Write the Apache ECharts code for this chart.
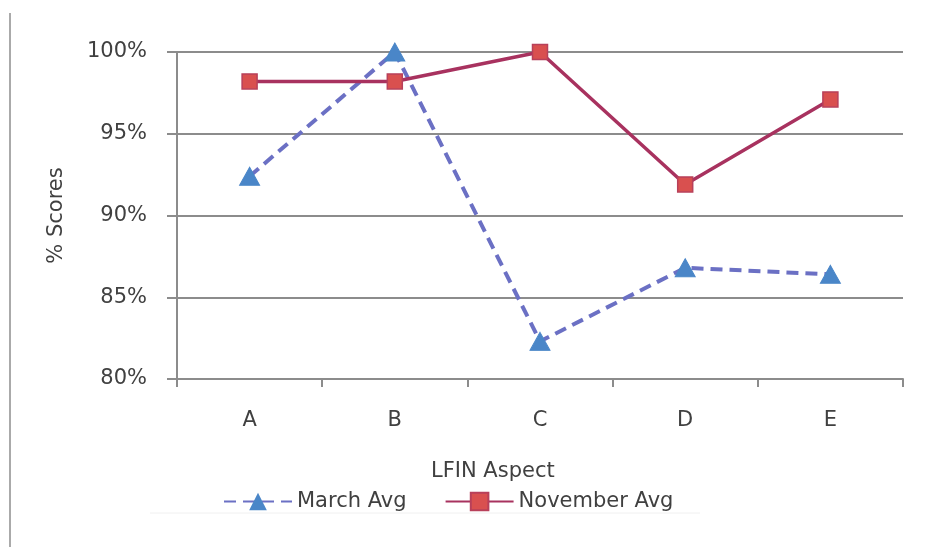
<!DOCTYPE html>
<html>
<head>
<meta charset="utf-8">
<script src="https://cdn.jsdelivr.net/npm/echarts@6/dist/echarts.min.js"></script>
<style>html,body{margin:0;padding:0;background:#fff}#c{width:946px;height:547px}</style>
</head>
<body>
<div id="c"></div>
<script>
var categories = ['A', 'B', 'C', 'D', 'E'];
var marchAvg = [92.4, 100, 82.3, 86.8, 86.4];
var novemberAvg = [98.2, 98.2, 100, 91.9, 97.1];
var yTicks = [80, 85, 90, 95, 100];

var FONT = 'DejaVu Sans';
var TXT = '#404040';
var chart = echarts.init(document.getElementById('c'));
chart.setOption({
  animation: false,
  backgroundColor: '#fff',
  textStyle: {fontFamily: FONT},
  grid: {left: 177, right: 43, top: 52, bottom: 168},
  title: {
    text: 'LFIN Aspect', left: 426, top: 456,
    textStyle: {fontFamily: FONT, fontSize: 21, fontWeight: 'normal', color: TXT}
  },
  legend: {
    left: 218, top: 486, itemWidth: 68, itemHeight: 22, itemGap: 38,
    textStyle: {fontFamily: FONT, fontSize: 21, color: TXT},
    data: ['March Avg', 'November Avg']
  },
  xAxis: {
    type: 'category', data: categories, boundaryGap: true,
    axisLine: {lineStyle: {color: '#8c8c8c', width: 2}},
    axisTick: {show: true, length: 8, lineStyle: {color: '#8c8c8c', width: 2}},
    axisLabel: {fontSize: 21, color: TXT, margin: 31, fontFamily: FONT}
  },
  yAxis: {
    type: 'value', min: yTicks[0], max: yTicks[yTicks.length - 1], interval: 5,
    name: '% Scores', nameLocation: 'middle', nameGap: 110,
    nameTextStyle: {fontSize: 21, color: TXT, fontFamily: FONT},
    axisLine: {show: true, lineStyle: {color: '#8c8c8c', width: 2}},
    axisTick: {show: true, length: 10, lineStyle: {color: '#8c8c8c', width: 2}},
    axisLabel: {fontSize: 21, color: TXT, margin: 30, fontFamily: FONT, formatter: '{value}%'},
    splitLine: {lineStyle: {color: '#8c8c8c', width: 2}}
  },
  graphic: [
    {type: 'line', shape: {x1: 10, y1: 13, x2: 10, y2: 547}, style: {stroke: '#aaaaaa', lineWidth: 2}, silent: true},
    {type: 'line', shape: {x1: 150, y1: 513, x2: 700, y2: 513}, style: {stroke: '#f0f0f0', lineWidth: 1}, silent: true}
  ],
  series: [
    {
      name: 'March Avg', type: 'line', data: marchAvg,
      symbol: 'triangle', symbolSize: [20, 18],
      lineStyle: {color: '#6b70c4', width: 4, type: [12, 7]},
      itemStyle: {color: '#4a86c8', borderColor: '#4a86c8'},
      z: 2
    },
    {
      name: 'November Avg', type: 'line', data: novemberAvg,
      symbol: 'rect', symbolSize: 15,
      lineStyle: {color: '#a8325f', width: 3.5},
      itemStyle: {color: '#d9504f', borderColor: '#b8405a', borderWidth: 1.5},
      z: 3
    }
  ]
});
</script>
</body>
</html>
